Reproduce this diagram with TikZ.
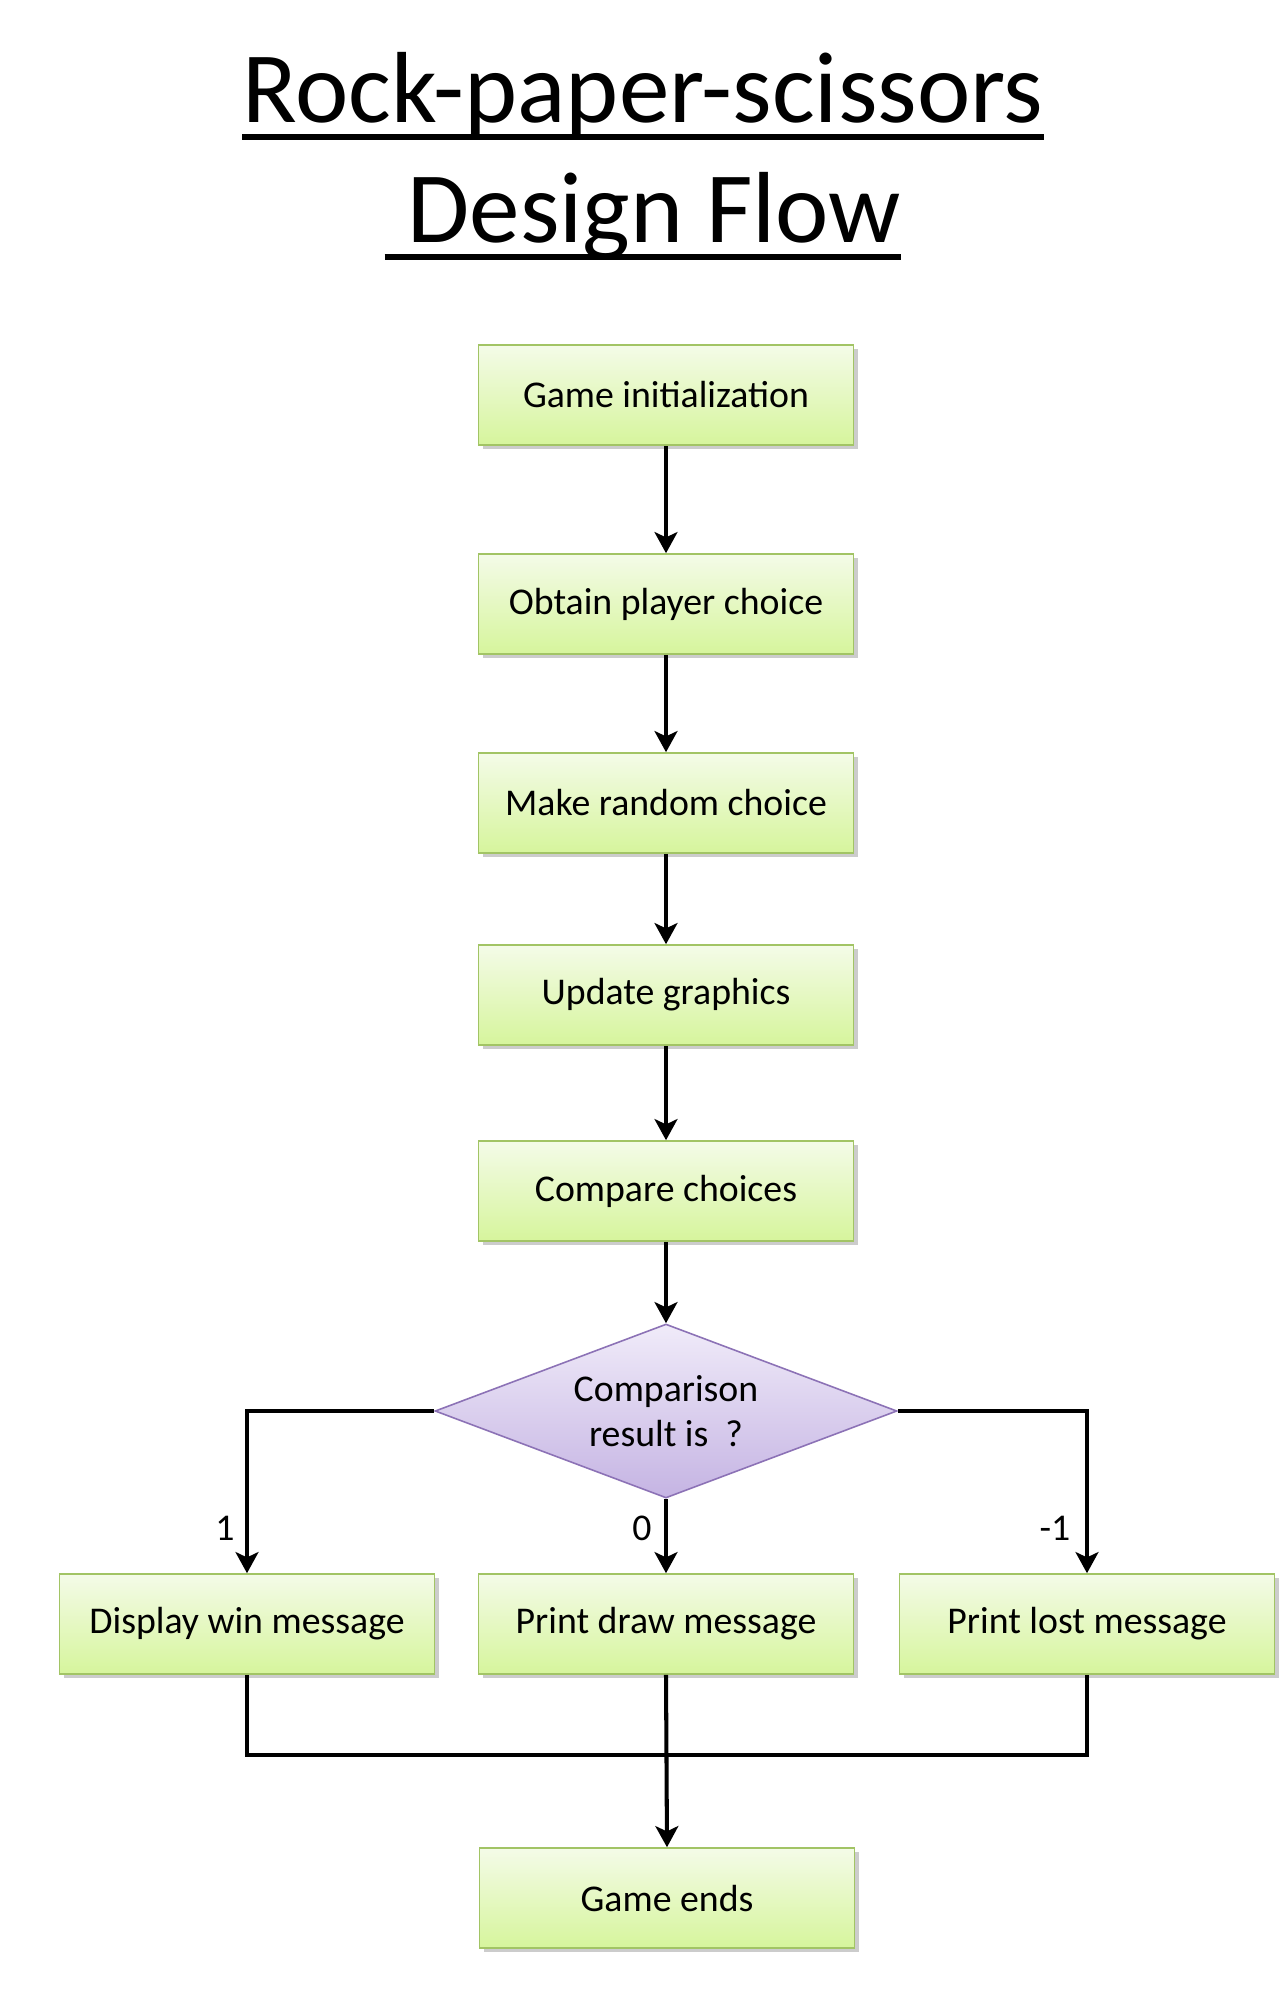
\documentclass[tikz,border=0pt]{standalone}
\usepackage{fontspec}
\setmainfont{Carlito}
\usepackage{xcolor}
\usepackage{tikz}
\usetikzlibrary{positioning,shapes.geometric,shadows,arrows.meta}

\definecolor{boxline}{HTML}{A2C465}
\definecolor{boxtop}{HTML}{F4FBE8}
\definecolor{boxbottom}{HTML}{D6F59C}
\definecolor{decline}{HTML}{8C72B6}
\definecolor{dectop}{HTML}{F0EBF9}
\definecolor{decbottom}{HTML}{C5B4E3}

\tikzset{
	stepbox/.style={rectangle, draw=boxline, line width=0.9pt,
		top color=boxtop, bottom color=boxbottom,
		minimum width=7.5cm, minimum height=2cm, inner sep=0pt,
		font=\fontsize{21.5}{26}\selectfont,
		drop shadow={shadow xshift=2.5pt, shadow yshift=-2.5pt, opacity=0.4}},
	decbox/.style={diamond, draw=decline, line width=0.9pt,
		top color=dectop, bottom color=decbottom,
		minimum width=9.24cm, minimum height=3.48cm, aspect=2.65, inner sep=0pt,
		align=center, font=\fontsize{21.5}{25.5}\selectfont},
	flow/.style={line width=2.3pt, -{Stealth[length=12pt,width=13pt,inset=3pt]}},
	mergeline/.style={line width=2.3pt},
	caselabel/.style={font=\fontsize{21.5}{26}\selectfont, inner sep=0pt},
	title/.style={font=\fontsize{57.5}{70}\selectfont, inner sep=0pt, anchor=base}
}

\begin{document}
\begin{tikzpicture}
	\useasboundingbox[fill=white] (0,0) rectangle (25.66,-40.12);
	% title
	\node[title] (t1) at (12.86,-2.44) {Rock-paper-scissors};
	\node[title] (t2) at (12.86,-4.84) {~Design Flow};
	\draw[line width=3.4pt] ([yshift=-8.5pt]t1.base west) -- ([yshift=-8.5pt]t1.base east);
	\draw[line width=3.4pt] ([yshift=-8.5pt]t2.base west) -- ([yshift=-8.5pt]t2.base east);
	% steps
	\node[stepbox] (init) at (13.32,-7.90) {Game initialization};
	\node[stepbox] (obtain) at (13.32,-12.08) {Obtain player choice};
	\node[stepbox] (random) at (13.32,-16.06) {Make random choice};
	\node[stepbox] (update) at (13.32,-19.90) {Update graphics};
	\node[stepbox] (compare) at (13.32,-23.82) {Compare choices};
	\node[decbox] (result) at (13.32,-28.22) {Comparison\\result is~~?};
	\node[stepbox] (win) at (4.94,-32.48) {Display win message};
	\node[stepbox] (tie) at (13.32,-32.48) {Print draw message};
	\node[stepbox] (lost) at (21.74,-32.48) {Print lost message};
	\node[stepbox] (ends) at (13.34,-37.96) {Game ends};
	\coordinate (merge) at (13.32,-35.10);
	% labels
	\node[caselabel] (lwin) at (4.50,-30.56) {1};
	\node[caselabel] (ltie) at (12.84,-30.56) {0};
	\node[caselabel] (llost) at (21.10,-30.56) {-1};
	% connectors
	\draw[flow] (init) -- (obtain);
	\draw[flow] (obtain) -- (random);
	\draw[flow] (random) -- (update);
	\draw[flow] (update) -- (compare);
	\draw[flow] (compare) -- (result);
	\draw[flow] (result.west) -| (win.north);
	\draw[flow] (result.south) -- (tie.north);
	\draw[flow] (result.east) -| (lost.north);
	\draw[mergeline] (win.south) |- (merge) -| (lost.south);
	\draw[flow] (tie.south) -- (ends.north);
\end{tikzpicture}
\end{document}
